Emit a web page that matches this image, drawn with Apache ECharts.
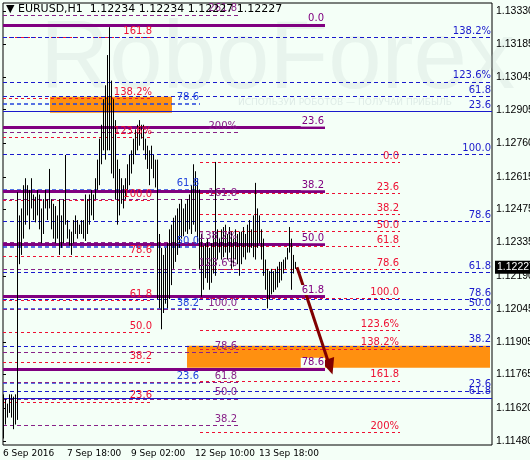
<!DOCTYPE html>
<html>
<head>
<meta charset="utf-8">
<script src="https://cdn.jsdelivr.net/npm/echarts@6/dist/echarts.min.js"></script>
<style>html,body{margin:0;padding:0;background:#f4fff7;}#main{width:530px;height:460px;}</style>
</head>
<body>
<div id="main"></div>
<script>
// hourly bars EURUSD H1, lows and highs
const lows = [1.1149,1.1155,1.1158,1.1160,1.1158,1.1153,1.1155,1.1157,1.1224,1.1228,
  1.1235,1.1241,1.1245,1.1239,1.1248,1.1243,1.1242,1.1245,1.1239,1.1233,
  1.1237,1.1248,1.1243,1.1248,1.1239,1.1235,1.1233,1.1235,1.1228,1.1231,
  1.1233,1.1241,1.1235,1.1232,1.1228,1.1233,1.1237,1.1235,1.1237,1.1237,
  1.1235,1.1234,1.1237,1.1241,1.1245,1.1243,1.1252,1.1256,1.1258,1.1267,
  1.1273,1.1269,1.1273,1.1273,1.1263,1.1261,1.1252,1.1241,1.1245,1.1250,
  1.1248,1.1252,1.1256,1.1258,1.1263,1.1267,1.1271,1.1273,1.1275,1.1278,
  1.1273,1.1269,1.1265,1.1258,1.1265,1.1261,1.1257,1.1209,1.1205,1.1196,
  1.1203,1.1207,1.1205,1.1209,1.1215,1.1222,1.1225,1.1228,1.1231,1.1235,
  1.1236,1.1238,1.1237,1.1239,1.1237,1.1241,1.1238,1.1233,1.1222,1.1210,
  1.1213,1.1218,1.1216,1.1213,1.1216,1.1220,1.1219,1.1226,1.1229,1.1226,
  1.1227,1.1229,1.1226,1.1229,1.1222,1.1223,1.1226,1.1224,1.1219,1.1224,
  1.1227,1.1226,1.1229,1.1229,1.1231,1.1227,1.1226,1.1231,1.1233,1.1226,
  1.1219,1.1213,1.1205,1.1209,1.1211,1.1212,1.1213,1.1214,1.1216,1.1217,
  1.1220,1.1222,1.1226,1.1229,1.1213,1.1220,1.1222];
const highs = [1.1168,1.1166,1.1164,1.1168,1.1168,1.1167,1.1168,1.1255,1.1245,1.1248,
  1.1258,1.1261,1.1258,1.1256,1.1261,1.1254,1.1253,1.1256,1.1254,1.1248,
  1.1252,1.1256,1.1252,1.1265,1.1252,1.1250,1.1249,1.1245,1.1252,1.1245,
  1.1252,1.1271,1.1243,1.1239,1.1238,1.1243,1.1245,1.1243,1.1241,1.1243,
  1.1243,1.1254,1.1252,1.1254,1.1256,1.1254,1.1261,1.1269,1.1278,1.1284,
  1.1295,1.1301,1.1314,1.1326,1.1303,1.1295,1.1286,1.1269,1.1265,1.1261,
  1.1258,1.1261,1.1267,1.1271,1.1273,1.1278,1.1282,1.1284,1.1286,1.1284,
  1.1284,1.1278,1.1275,1.1273,1.1275,1.1271,1.1269,1.1269,1.1237,1.1231,
  1.1228,1.1231,1.1233,1.1239,1.1241,1.1244,1.1245,1.1248,1.1250,1.1252,
  1.1248,1.1250,1.1252,1.1254,1.1258,1.1267,1.1264,1.1261,1.1256,1.1237,
  1.1232,1.1233,1.1235,1.1231,1.1233,1.1238,1.1268,1.1239,1.1235,1.1239,
  1.1240,1.1241,1.1237,1.1240,1.1238,1.1235,1.1239,1.1237,1.1238,1.1238,
  1.1240,1.1237,1.1241,1.1243,1.1239,1.1245,1.1259,1.1248,1.1245,1.1239,
  1.1235,1.1226,1.1222,1.1221,1.1222,1.1221,1.1222,1.1223,1.1225,1.1225,
  1.1226,1.1227,1.1231,1.1240,1.1235,1.1228,1.1225];

const timeLabels = ['6 Sep 2016', '7 Sep 18:00', '9 Sep 02:00', '12 Sep 10:00', '13 Sep 18:00'];
const priceTicks = [1.13330,1.13185,1.13045,1.12905,1.12760,1.12615,1.12475,1.12335,1.12190,1.12045,1.11905,1.11765,1.11620,1.11480];
const lastPrice = 1.12227;

// fibonacci level sets
const purpleSolidVals = [1.13270,1.12828,1.12554,1.12326,1.12103,1.11790];
const purpleSolidLabels = ['0.0','23.6','38.2','50.0','61.8','78.6'];
const purpleDashVals = [1.13313,1.12807,1.12519,1.12335,1.12219,1.12047,1.11859,1.11730,1.11661,1.11545];
const purpleDashLabels = ['261.8','200%','161.8','138.2%','123.6%','100.0','78.6','61.8','50.0','38.2'];
const redLeftVals = [1.13218,1.12952,1.12785,1.12515,1.12275,1.12086,1.11948,1.11816,1.11648];
const redLeftLabels = ['161.8','138.2%','123.6%','100.0','78.6','61.8','50.0','38.2','23.6'];
const redRightVals = [1.12678,1.12545,1.12455,1.12382,1.12318,1.12219,1.12094,1.11957,1.11876,1.11738,1.11515];
const redRightLabels = ['0.0','23.6','38.2','50.0','61.8','78.6','100.0','123.6%','138.2%','161.8','200%'];
const blueLongVals = [1.13218,1.13025,1.12961,1.12712,1.12425,1.12206,1.12090,1.12047,1.11889,1.11695];
const blueLongLabels = ['138.2%','123.6%','61.8','100.0','78.6','61.8','78.6','50.0','38.2','23.6'];
const blueShortVals = [1.12931,1.12562,1.12313,1.12047,1.11730];
const blueShortLabels = ['78.6','61.8','50.0','38.2','23.6'];
const blueSolidVals = [1.12897,1.11665];
const blueSolidLabels = ['23.6','61.8'];

const bars = lows.map((l, i) => [i, l, highs[i]]);

function levels(vals, labels, x0, x1, color, type, width, bg) {
    return vals.map((v, i) => [
        {coord: [x0, v], lineStyle: {color: color, type: type, width: width},
         label: {show: true, formatter: labels[i], position: 'insideEndTop', distance: [0, 1],
                 color: color, fontSize: 10, fontFamily: 'DejaVu Sans', backgroundColor: bg, padding: [0, 1]}},
        {coord: [x1, v]}
    ]);
}

const chart = echarts.init(document.getElementById('main'));
const option = {
    backgroundColor: '#f4fff7',
    animation: false,
    grid: {left: 3, right: 38, top: 3, bottom: 15, show: true, borderColor: '#000', borderWidth: 1,
           containLabel: false, outerBoundsMode: 'none'},
    graphic: [
        {type: 'text', left: 40, top: 14, silent: true, z: 0,
         style: {text: 'RoboForex', fontSize: 96, fontFamily: 'Liberation Sans', fill: 'rgba(190,205,205,0.22)'}},
        {type: 'text', left: 238, top: 98, silent: true, z: 0,
         style: {text: 'ИСПОЛЬЗУЙ РОБОТОВ — ПОЛУЧАЙ ПРИБЫЛЬ', fontSize: 9, fontFamily: 'DejaVu Sans', fill: 'rgba(190,205,205,0.4)'}},
        {type: 'text', left: 6, top: 4, z: 100,
         style: {text: '▼ EURUSD,H1  1.12234 1.12234 1.12227 1.12227', fontSize: 11, fontFamily: 'DejaVu Sans', fill: '#000'}}
    ],
    xAxis: {
        type: 'value', min: 0, max: 244.5, interval: 32,
        splitLine: {show: false}, axisLine: {show: false},
        axisTick: {show: false},
        axisLabel: {
            color: '#000', fontSize: 9, fontFamily: 'DejaVu Sans', align: 'left', margin: 4,
            showMaxLabel: false,
            formatter: v => timeLabels[Math.round(v / 32)] || ''
        }
    },
    yAxis: {
        type: 'value', position: 'right', min: 1.11462, max: 1.13364, scale: true,
        splitLine: {show: false}, axisLine: {show: false},
        axisTick: {show: true, inside: false, length: 3, lineStyle: {color: '#000'}, customValues: priceTicks},
        axisLabel: {color: '#000', fontSize: 10.5, fontFamily: 'Liberation Sans', margin: 4,
                    customValues: priceTicks, formatter: v => v.toFixed(5)}
    },
    series: [
        {
            type: 'custom', z: 5,
            data: bars,
            renderItem: function (params, api) {
                const lo = api.coord([api.value(0), api.value(1)]);
                const hi = api.coord([api.value(0), api.value(2)]);
                const x = Math.round(lo[0]) + 0.5;
                return {type: 'line', shape: {x1: x, y1: lo[1], x2: x, y2: hi[1]},
                        style: {stroke: '#000', lineWidth: 1}};
            }
        },
        {
            type: 'line', data: [], z: 3,
            markArea: {
                silent: true,
                itemStyle: {color: '#ff9010'},
                data: [
                    [{coord: [23.5, 1.12961]}, {coord: [84.5, 1.12892]}],
                    [{coord: [92, 1.11889]}, {coord: [243.5, 1.11794]}]
                ]
            },
            markLine: {
                silent: true, symbol: 'none', animation: false,
                data: [].concat(
                    levels(redLeftVals, redLeftLabels, 0, 75, '#ee1133', [3, 3], 1),
                    levels(redRightVals, redRightLabels, 98.5, 198.5, '#ee1133', [3, 3], 1),
                    levels(blueLongVals, blueLongLabels, 0, 244.5, '#1a1acc', [4, 3], 1),
                    levels(blueShortVals, blueShortLabels, 0, 98.5, '#2244dd', [4, 3], 1.5),
                    levels(blueSolidVals, blueSolidLabels, 0, 244.5, '#1a1acc', 'solid', 1.2),
                    levels(purpleDashVals, purpleDashLabels, 0, 117.5, '#882288', [4, 3], 1),
                    levels(purpleSolidVals, purpleSolidLabels, 0, 161, '#800080', 'solid', 3, '#f4fff7'),
                    [[
                        {coord: [147, 1.12227], symbol: 'none', lineStyle: {color: '#800000', width: 3, type: 'solid'}, label: {show: false}},
                        {coord: [163.5, 1.11798], symbol: 'triangle', symbolSize: [14, 16]}
                    ]]
                )
            }
        },
        {
            type: 'line', data: [], z: 20,
            markLine: {
                silent: true, symbol: 'none', animation: false,
                data: [[
                    {coord: [240, lastPrice], lineStyle: {width: 0, color: '#000'},
                     label: {show: true, position: 'end', formatter: lastPrice.toFixed(5),
                      backgroundColor: '#000', color: '#fff', fontSize: 10.5, fontFamily: 'Liberation Sans', padding: [1, 2], distance: 3}},
                    {coord: [244.5, lastPrice]}
                ]]
            }
        }
    ]
};
chart.setOption(option);
</script>
</body>
</html>
